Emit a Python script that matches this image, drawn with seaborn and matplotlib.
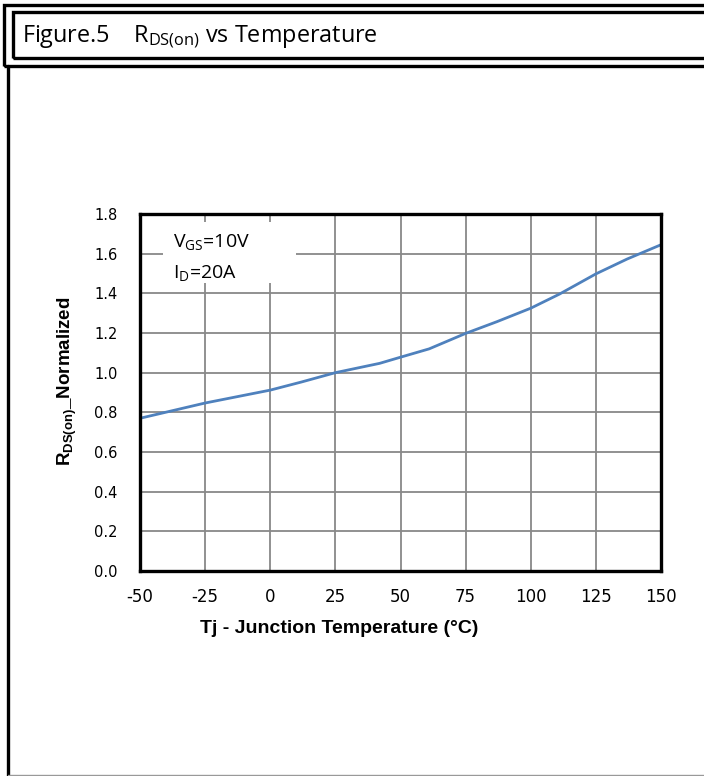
import matplotlib
matplotlib.use("Agg")
import matplotlib.pyplot as plt
import seaborn as sns
import pandas as pd
from matplotlib.patches import Rectangle
from matplotlib.lines import Line2D

temps = [-50, -25, 0, 12, 25, 42, 50, 61, 75, 87, 100, 111, 125, 137, 150]
rds_norm = [0.77, 0.847, 0.912, 0.953, 1.0, 1.047, 1.078, 1.12, 1.198, 1.257, 1.325, 1.396, 1.498, 1.573, 1.645]
x_ticks = [-50, -25, 0, 25, 50, 75, 100, 125, 150]
y_ticks = [0.0, 0.2, 0.4, 0.6, 0.8, 1.0, 1.2, 1.4, 1.6, 1.8]

sns.set_theme(style="white")
plt.rcParams['font.family'] = ['DejaVu Sans']
plt.rcParams['text.color'] = 'black'
plt.rcParams['axes.labelcolor'] = 'black'
plt.rcParams['xtick.color'] = 'black'
plt.rcParams['ytick.color'] = 'black'
plt.rcParams['mathtext.fontset'] = 'custom'
plt.rcParams['mathtext.rm'] = 'Open Sans'
plt.rcParams['mathtext.bf'] = 'Liberation Sans:bold'

W, H = 704, 776
fig = plt.figure(figsize=(W / 100, H / 100), dpi=100)

def fx(px):
    return px / W

def fy(py):
    return 1 - py / H

# Title frame (double border)
fig.add_artist(Rectangle((fx(4), fy(66)), fx(720) - fx(4), fy(5) - fy(66),
                         transform=fig.transFigure, fill=False, ec='black', lw=2.4))
fig.add_artist(Rectangle((fx(13), fy(58)), fx(720) - fx(13), fy(12) - fy(58),
                         transform=fig.transFigure, fill=False, ec='black', lw=2.4))
fig.add_artist(Line2D([fx(8), fx(8)], [fy(66), fy(776)], transform=fig.transFigure,
                      color='black', lw=2.4))
fig.add_artist(Line2D([fx(8), fx(704)], [fy(774.5), fy(774.5)], transform=fig.transFigure,
                      color='#999999', lw=1.0))
fig.text(fx(22), fy(37), r"Figure.5    R$_{\mathrm{DS(on)}}$ vs Temperature",
         fontsize=16.8, family='Open Sans', va='center', ha='left')

ax = fig.add_axes([fx(140), fy(571), fx(661) - fx(140), fy(214) - fy(571)])
df = pd.DataFrame({'T': temps, 'R': rds_norm})
sns.lineplot(data=df, x='T', y='R', ax=ax, color='#4F81BD', lw=2.0, zorder=5)

ax.set_xlim(-50, 150)
ax.set_ylim(0, 1.8)
ax.set_xticks(x_ticks)
ax.set_yticks(y_ticks)
ax.set_xticklabels([str(v) for v in x_ticks])
ax.set_yticklabels([f"{v:.1f}" for v in y_ticks])
ax.tick_params(axis='both', length=0, colors='black')
ax.tick_params(axis='y', pad=16, labelsize=10.5)
ax.tick_params(axis='x', pad=12, labelsize=12)
ax.grid(True, color='#888888', lw=1.3)
ax.set_axisbelow(True)
for s in ax.spines.values():
    s.set_color('black')
    s.set_linewidth(2.4)
    s.set_zorder(6)

# white box behind annotation
ax.add_patch(Rectangle((-41.2, 1.45), 51.1, 0.31, fc='white', ec='none', zorder=2))
ax.text(-37.5, 1.655, r"V$_{\mathrm{GS}}$=10V", fontsize=14, family='Open Sans', va='center', zorder=6)
ax.text(-37.5, 1.50, r"I$_{\mathrm{D}}$=20A", fontsize=14, family='Open Sans', va='center', zorder=6)

ax.set_xlabel("Tj - Junction Temperature (°C)", fontsize=14, fontweight='bold',
              family='Liberation Sans')
ax.xaxis.set_label_coords(0.382, -0.137)
ax.set_ylabel(r"R$_{\mathbf{DS(on)}}$_Normalized", fontsize=13.5, fontweight='bold',
              family='Liberation Sans')
ax.yaxis.set_label_coords(-0.117, 0.532)

fig.savefig("out.png", dpi=100)
